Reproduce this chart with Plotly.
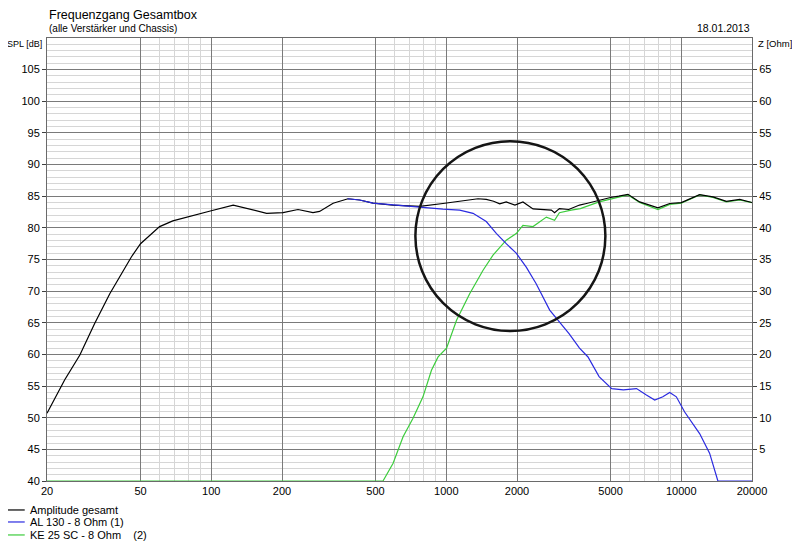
import math
import plotly.graph_objects as go

# Amplitude gesamt (black)
freq_total = [20, 23.8, 27.6, 30.4, 31.9, 37, 40.9, 45.7, 50, 55.6, 60.3, 68.6, 80, 89, 100,
              124, 146, 172, 202, 234, 271, 289, 330, 382, 428, 488, 592, 771, 968, 1141,
              1365, 1480, 1590, 1688, 1800, 1960, 2120, 2340, 2600, 2800, 2890, 3030, 3320,
              3690, 3950, 4470, 5000, 5420, 5935, 6650, 7960, 8930, 10000, 11970, 13640,
              15560, 17740, 20000]
spl_total = [50.7, 56.0, 59.9, 63.3, 64.9, 69.6, 72.3, 75.4, 77.5, 79.1, 80.2, 81.1, 81.8, 82.2, 82.7,
             83.6, 82.9, 82.3, 82.4, 82.9, 82.4, 82.6, 83.9, 84.6, 84.4, 83.9, 83.6, 83.4, 83.85, 84.2,
             84.6, 84.5, 84.2, 83.8, 84.1, 83.6, 84.1, 83.0, 82.9, 82.8, 82.4, 83.05, 82.9,
             83.6, 83.85, 84.4, 84.8, 85.0, 85.3, 84.1, 83.15, 83.85, 84.0, 85.25, 84.9,
             84.2, 84.5, 84.0]

# AL 130 - 8 Ohm (1) (blue)
freq_al130 = [380, 428, 488, 592, 771, 968, 1141, 1300, 1480, 1636, 1800, 1985, 2190, 2410,
              2755, 3130, 3330, 3690, 4010, 4470, 5060, 5670, 6450, 7107, 7710, 8350, 8930,
              9530, 10340, 11970, 13200, 14320, 20000]
spl_al130 = [84.6, 84.4, 83.9, 83.6, 83.2, 82.95, 82.8, 82.3, 81.0, 79.1, 77.5, 76.0, 73.8, 71.2,
             67.0, 64.4, 63.3, 61.0, 59.6, 56.5, 54.6, 54.4, 54.6, 53.6, 52.8, 53.3, 54.0,
             53.3, 50.9, 47.5, 44.4, 40.0, 40.0]

# KE 25 SC - 8 Ohm (2) (green)
freq_ke25 = [20, 538, 594, 655, 722, 796, 865, 923, 1003, 1106, 1258, 1434, 1581, 1800, 1985,
             2120, 2340, 2667, 2890, 3030, 3400, 3720, 4470, 5120, 5935, 6650, 7960, 8930,
             10000, 11970, 13640, 15560, 17740, 20000]
spl_ke25 = [40, 40, 42.8, 47.0, 49.9, 53.3, 57.5, 59.6, 61.0, 65.4, 69.6, 73.3, 75.7, 78.05, 79.1,
            80.4, 80.2, 81.7, 81.2, 82.4, 82.8, 83.05, 84.1, 84.6, 85.2, 84.0, 82.9, 83.7,
            83.9, 85.2, 84.8, 84.1, 84.4, 84.0]

series_names = ["Amplitude gesamt", "AL 130 - 8 Ohm (1)", "KE 25 SC - 8 Ohm    (2)"]
series_colors = ["#000000", "#2a2ae0", "#3ccc3c"]

x_ticks = [20, 50, 100, 200, 500, 1000, 2000, 5000, 10000, 20000]
x_mid_grid = [30, 40, 150, 300, 400, 1500, 3000, 4000, 15000]
x_light_grid = [60, 70, 80, 90, 600, 700, 800, 900, 6000, 7000, 8000, 9000]
spl_ticks = list(range(40, 110, 5))
z_ticks = list(range(5, 70, 5))

# highlight circle (frequency / dB extents)
circle_f = (739, 4755)
circle_db = (63.7, 93.7)

font = "Liberation Sans"

fig = go.Figure()
fig.add_trace(go.Scatter(x=freq_ke25, y=spl_ke25, mode="lines", name=series_names[2],
                         line=dict(color=series_colors[2], width=1.2)))
fig.add_trace(go.Scatter(x=freq_total, y=spl_total, mode="lines", name=series_names[0],
                         line=dict(color=series_colors[0], width=1.2)))
fig.add_trace(go.Scatter(x=freq_al130, y=spl_al130, mode="lines", name=series_names[1],
                         line=dict(color=series_colors[1], width=1.2)))
# empty trace so the impedance axis on the right gets drawn
fig.add_trace(go.Scatter(x=[], y=[], yaxis="y2", showlegend=False, hoverinfo="skip"))

fig.add_shape(type="circle", xref="x", yref="y",
              x0=circle_f[0], x1=circle_f[1], y0=circle_db[0], y1=circle_db[1],
              line=dict(color="#151515", width=2.5))

xrange = [math.log10(20), math.log10(20000)]

# page body has an 8px margin, so the figure is 8px smaller than the window
fig.update_layout(
    width=792, height=535,
    margin=dict(l=39, r=48, t=30, b=62),
    paper_bgcolor="white", plot_bgcolor="white",
    showlegend=False,
    font=dict(family=font, size=11, color="black"),
    xaxis=dict(
        type="log", range=xrange,
        tickvals=x_ticks, ticktext=[str(v) for v in x_ticks],
        ticks="", showgrid=True, gridcolor="#7a7a7a", gridwidth=1,
        showline=True, linecolor="#6a6a6a", mirror=True, zeroline=False,
        minor=dict(tickmode="array", tickvals=x_light_grid, showgrid=True,
                   gridcolor="#d6d6d6", ticks=""),
    ),
    xaxis2=dict(
        type="log", range=xrange, overlaying="x", anchor="y",
        tickvals=x_mid_grid, showticklabels=False, ticks="",
        showgrid=True, gridcolor="#acacac", showline=False, zeroline=False,
    ),
    yaxis=dict(
        range=[40, 110], tickvals=spl_ticks, ticks="outside", ticklen=4,
        tickcolor="#404040", showgrid=True, gridcolor="#7a7a7a",
        showline=True, linecolor="#6a6a6a", mirror=True, zeroline=False,
        minor=dict(dtick=1, showgrid=True, gridcolor="#d6d6d6", ticks=""),
    ),
    yaxis2=dict(
        range=[0, 70], overlaying="y", side="right", anchor="x",
        tickvals=z_ticks, ticks="outside", ticklen=4, tickcolor="#404040",
        showgrid=False, zeroline=False, showline=False,
    ),
)

annotations = [
    dict(text="Frequenzgang Gesamtbox", x=0.0, y=1.052, xanchor="left", yanchor="middle",
         font=dict(size=12.5)),
    dict(text="(alle Verstärker und Chassis)", x=0.0, y=1.022, xanchor="left", yanchor="middle",
         font=dict(size=10)),
    dict(text="18.01.2013", x=1.0, y=1.022, xanchor="right", yanchor="middle",
         font=dict(size=10.5)),
    dict(text="SPL [dB]", x=-0.004, y=0.986, xanchor="right", yanchor="middle",
         font=dict(size=9)),
    dict(text="Z [Ohm]", x=1.005, y=0.988, xanchor="left", yanchor="middle",
         font=dict(size=9.5)),
]
legend_y = [-0.0654, -0.0925, -0.1218]
for name, color, ly in zip(series_names, series_colors, legend_y):
    annotations.append(dict(text=name, x=-0.0274, y=ly, xanchor="left", yanchor="middle"))
    fig.add_shape(type="line", xref="paper", yref="paper", x0=-0.0557, x1=-0.0316,
                  y0=ly, y1=ly, line=dict(color=color, width=1.2))

for a in annotations:
    a.update(xref="paper", yref="paper", showarrow=False)
fig.update_layout(annotations=annotations)

fig.write_html("out.html")
